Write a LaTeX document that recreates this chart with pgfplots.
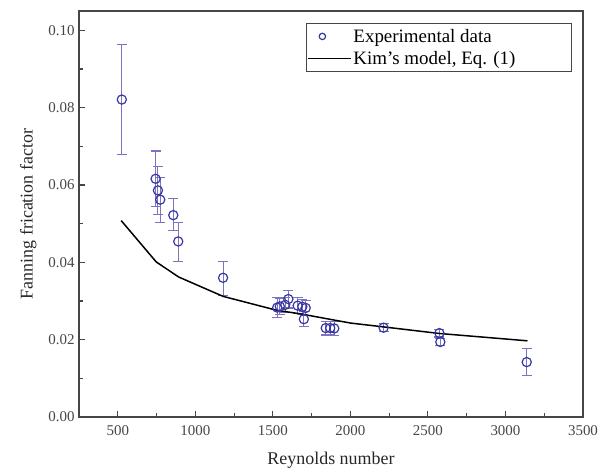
\documentclass[border=0pt]{standalone}
\usepackage{pgfplots}
\pgfplotsset{compat=1.18}
\usepackage{pgfplotstable}
\usepackage{fontspec}
\setmainfont{Liberation Serif}

\definecolor{ptblue}{RGB}{55,55,165}
\definecolor{errblue}{RGB}{125,115,190}
\definecolor{axgray}{RGB}{70,70,70}

\pgfplotsset{
    circlegend/.style={legend image code/.code={%
        \path[draw=none] (0cm,0cm) -- (1.5cm,0cm);
        \draw[ptblue, line width=1.2pt] (0.5cm,0cm) circle[radius=3.2bp];}},
    linelegend/.style={legend image code/.code={%
        \draw[##1] (0cm,0cm) -- (1.5cm,0cm);}},
}

% Re, f, +err, -err
\pgfplotstableread{
x     y       ep      em
526   0.0821  0.0142  0.0142
744   0.0616  0.0072  0.0072
759   0.0586  0.0063  0.0063
774   0.0562  0.0058  0.0058
858   0.0522  0.0042  0.0039
890   0.0454  0.0048  0.0053
1179  0.0360  0.0041  0.0045
1528  0.0283  0.0025  0.0025
1545  0.0286  0.0020  0.0020
1580  0.0290  0.0020  0.0020
1600  0.0305  0.0023  0.0023
1660  0.0288  0.0020  0.0020
1690  0.0285  0.0020  0.0020
1700  0.0253  0.0020  0.0020
1712  0.0282  0.0020  0.0020
1841  0.0230  0.0018  0.0018
1870  0.0230  0.0018  0.0018
1896  0.0229  0.0018  0.0018
2214  0.0231  0.0010  0.0010
2574  0.0217  0.0010  0.0010
2580  0.0194  0.0010  0.0010
3137  0.0142  0.0036  0.0034
}\expdata

\pgfplotstableread{
x     y
522   0.0508
748   0.0401
893   0.0362
1179  0.0312
1525  0.0276
1674  0.0267
2000  0.0243
2214  0.0233
2574  0.0216
3142  0.0197
}\kimmodel

\begin{document}
\begin{tikzpicture}
\begin{axis}[
    scale only axis,
    width=504bp,
    height=406bp,
    xmin=250, xmax=3500,
    ymin=0, ymax=0.105,
    axis line style={axgray, line width=1.3pt},
    tick style={axgray, line width=1.1pt},
    tick align=inside,
    tick pos=left,
    major tick length=6bp,
    minor tick length=4bp,
    xtick={500,1000,...,3500},
    minor xtick={250,750,...,3250},
    ytick={0,0.02,...,0.1},
    minor ytick={0.01,0.03,...,0.09},
    /pgf/number format/set thousands separator={},
    /pgf/number format/assume math mode=true,
    yticklabel style={xshift=-1bp, /pgf/number format/fixed,
        /pgf/number format/fixed zerofill, /pgf/number format/precision=2},
    xticklabel style={yshift=-5bp},
    scaled y ticks=false,
    ticklabel style={font=\fontsize{15}{17}\selectfont, text=axgray},
    xlabel={Reynolds number},
    ylabel={Fanning frication factor},
    label style={font=\fontsize{18}{20}\selectfont, text=black!85},
    xlabel style={yshift=-10bp},
    ylabel style={yshift=5bp},
    legend style={
        at={(0.978,0.970)}, anchor=north east,
        draw=axgray, line width=0.9pt,
        font=\fontsize{19}{22}\selectfont,
        inner xsep=1pt, inner ysep=3.5pt,
        row sep=3.5pt,
    },
    legend cell align=left,
    clip=false,
]

\addplot[
    only marks,
    mark=o,
    mark size=4.6bp,
    mark options={ptblue, line width=1.2pt},
    circlegend,
    error bars/.cd,
        y dir=both, y explicit,
        error bar style={errblue, line width=1.1pt},
        error mark options={errblue, line width=1.1pt, mark size=5bp, rotate=90},
] table[x=x, y=y, y error plus=ep, y error minus=em] {\expdata};
\addlegendentry{\makebox[215bp][l]{Experimental data}}

\addplot[black, line width=1.5pt, mark=none, linelegend] table[x=x, y=y] {\kimmodel};
\addlegendentry{\makebox[215bp][l]{Kim's model, Eq. (1)}}

\end{axis}
\pgfresetboundingbox
\path[use as bounding box] ([xshift=-79bp, yshift=-55bp]current axis.south west)
    rectangle ([xshift=16bp, yshift=11bp]current axis.north east);
\end{tikzpicture}
\end{document}
